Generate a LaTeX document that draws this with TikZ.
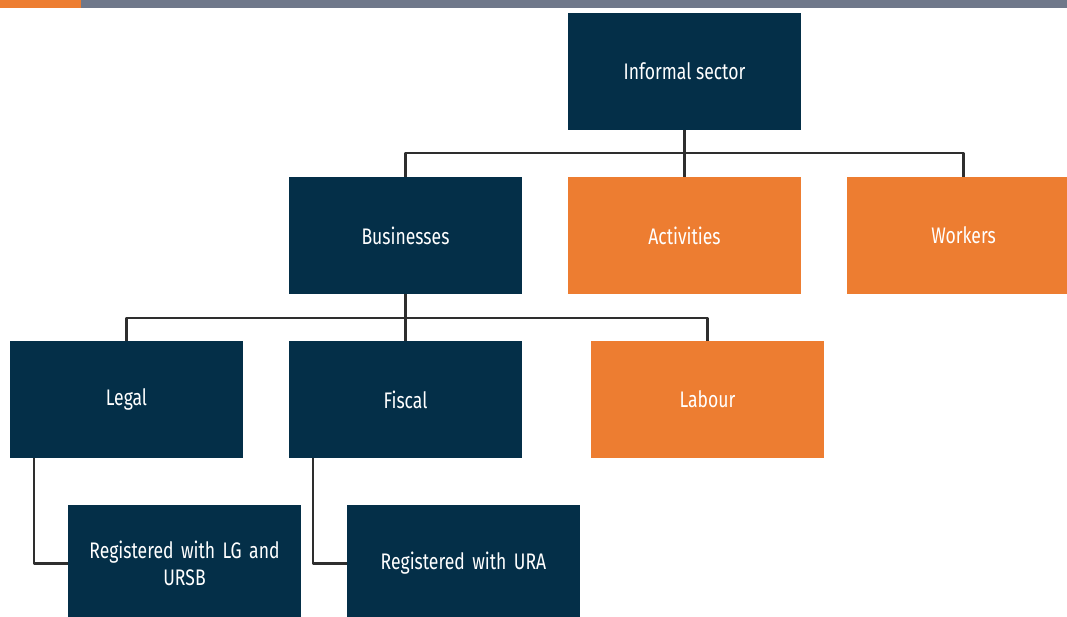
\documentclass[tikz,border=0pt]{standalone}
\usepackage{fontspec}
\setmainfont{Fira Sans}[FakeStretch=0.78]
\definecolor{navy}{HTML}{042F48}
\definecolor{tangerine}{HTML}{ED7D31}
\definecolor{slate}{HTML}{6F788A}
\definecolor{wire}{HTML}{2E2E2E}
\begin{document}
\begin{tikzpicture}[x=0.025cm, y=-0.025cm, font=\fontsize{16}{19}\selectfont, line join=round,
		box/.style={rectangle, text=white, minimum width=5.825cm, minimum height=2.925cm, align=center, inner sep=0pt},
		navybox/.style={box, fill=navy},
		orangebox/.style={box, fill=tangerine},
		link/.style={draw=wire, line width=1.5pt}]
			\useasboundingbox (0,0) rectangle (1067,617);
			% header strip
			\fill[tangerine] (0,0) rectangle (81,8);
			\fill[slate] (81,0) rectangle (1067,8);
			
			\node[navybox] (IS) at (684.5,71.5) {Informal sector};
			\node[navybox] (B) at (405.5,235.5) {Businesses};
			\node[orangebox] (A) at (684.5,235.5) {Activities};
			\node[orangebox] (W) at (963.5,235.5) {Workers};
			\node[navybox] (L) at (126.5,399.5) {Legal};
			\node[navybox] (F) at (405.5,399.5) {Fiscal};
			\node[orangebox] (Lab) at (707.5,399.5) {Labour};
			\node[navybox, text width=5.4cm] (R1) at (184.5,563.5) {Registered with LG and\\URSB};
			\node[navybox, text width=5.4cm] (R2) at (463.5,563.5) {Registered with URA};
			
			\coordinate (J1) at (684.5,153);
			\coordinate (J2) at (405.5,318);
			\draw[link] (IS) -- (A)
			(J1) -| (B)
			(J1) -| (W)
			(B) -- (F)
			(J2) -| (L)
			(J2) -| (Lab)
			;
			\draw[link] (L.south west) ++(24,0) |- (R1.west);
			\draw[link] (F.south west) ++(24,0) |- (R2.west);
		\end{tikzpicture}
\end{document}
